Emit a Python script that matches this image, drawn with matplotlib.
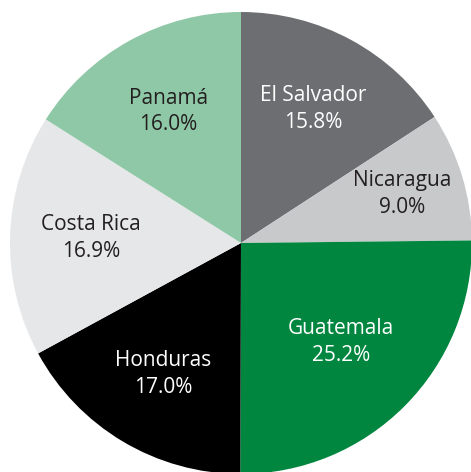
import matplotlib.pyplot as plt
import numpy as np

# Data
countries = ["El Salvador", "Nicaragua", "Guatemala", "Honduras", "Costa Rica", "Panamá"]
shares = [15.8, 9.0, 25.2, 17.0, 16.9, 16.0]
colors = ["#6d6e71", "#c8c9cb", "#00863f", "#000000", "#e6e7e8", "#8ec8a6"]
text_colors = ["white", "#231f20", "white", "white", "#231f20", "#231f20"]
label_radius = [0.66, 0.73, 0.61, 0.66, 0.65, 0.65]

fig = plt.figure(figsize=(4.71, 4.72), dpi=100)
ax = fig.add_axes([0, 0, 1, 1])

cx, cy, r = 241, 472 - 243, 231
wedges, _ = ax.pie(shares, colors=colors, startangle=90, counterclock=False,
                   center=(cx, cy), radius=r, frame=True,
                   wedgeprops=dict(linewidth=0))

for w, name, val, tc, d in zip(wedges, countries, shares, text_colors, label_radius):
    ang = np.deg2rad((w.theta1 + w.theta2) / 2)
    x = cx + d * r * np.cos(ang)
    y = cy + d * r * np.sin(ang)
    ax.text(x, y, f"{name}\n{val:.1f}%", ha="center", va="center", color=tc,
            fontsize=15, family="Open Sans", linespacing=1.35)

ax.set_xlim(0, 471)
ax.set_ylim(0, 472)
ax.set_aspect("equal")
ax.axis("off")

fig.savefig("out.png", dpi=100)
